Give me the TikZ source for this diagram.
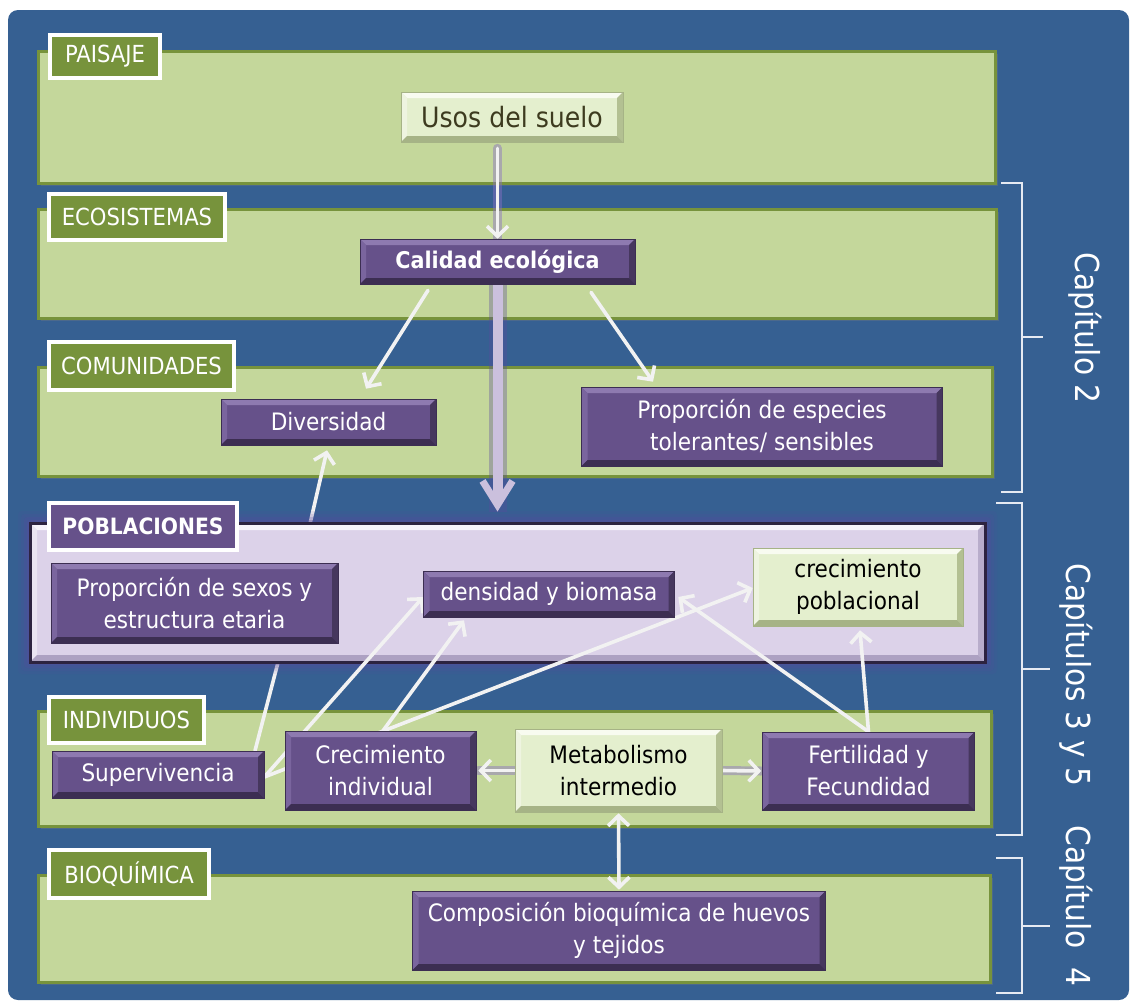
\documentclass[tikz,border=0pt]{standalone}
\usepackage{fontspec}
\setmainfont{DejaVu Sans}[FakeStretch=0.9]
\usetikzlibrary{arrows.meta,shadows,calc}
\definecolor{panelblue}{HTML}{366092}
\definecolor{bandfill}{HTML}{C4D79B}
\definecolor{banddraw}{HTML}{77933C}
\definecolor{labfill}{HTML}{77933C}
\definecolor{pfill}{HTML}{66518A}
\definecolor{ptop}{HTML}{8E7AB0}
\definecolor{pleft}{HTML}{7A659E}
\definecolor{pright}{HTML}{46375E}
\definecolor{pbot}{HTML}{3C2E52}
\definecolor{gfill}{HTML}{E4EFCE}
\definecolor{gtop}{HTML}{F8FBF0}
\definecolor{gleft}{HTML}{EEF4E0}
\definecolor{gright}{HTML}{B3C092}
\definecolor{gbot}{HTML}{A6B386}
\definecolor{lavfill}{HTML}{DCD2E9}
\definecolor{lavtop}{HTML}{F7F3FB}
\definecolor{lavleft}{HTML}{EAE4F2}
\definecolor{lavright}{HTML}{B8ADCB}
\definecolor{lavbot}{HTML}{ADA1C2}
\definecolor{lavdraw}{HTML}{2D2340}
\definecolor{glowpur}{HTML}{5A4A9E}
\definecolor{arrw}{HTML}{F2F2F2}
\definecolor{glowc}{HTML}{8A6FC4}
\definecolor{bigc}{HTML}{CBC0DD}
\definecolor{brk}{HTML}{E6EAF2}
\definecolor{usostext}{HTML}{3D3B1F}
\pgfdeclarelayer{l0}
\pgfdeclarelayer{l1}
\pgfdeclarelayer{l2}
\pgfdeclarelayer{l3}
\pgfsetlayers{l0,l1,l2,l3,main}
\tikzset{
  bevel/.style n args={5}{path picture={
    \fill[#2] (path picture bounding box.north west) -- (path picture bounding box.north east)
      -- ([xshift=-#1,yshift=-#1]path picture bounding box.north east)
      -- ([xshift=#1,yshift=-#1]path picture bounding box.north west) -- cycle;
    \fill[#3] (path picture bounding box.north west) -- (path picture bounding box.south west)
      -- ([xshift=#1,yshift=#1]path picture bounding box.south west)
      -- ([xshift=#1,yshift=-#1]path picture bounding box.north west) -- cycle;
    \fill[#4] (path picture bounding box.north east) -- (path picture bounding box.south east)
      -- ([xshift=-#1,yshift=#1]path picture bounding box.south east)
      -- ([xshift=-#1,yshift=-#1]path picture bounding box.north east) -- cycle;
    \fill[#5] (path picture bounding box.south west) -- (path picture bounding box.south east)
      -- ([xshift=-#1,yshift=#1]path picture bounding box.south east)
      -- ([xshift=#1,yshift=#1]path picture bounding box.south west) -- cycle;
  }},
  band/.style={rectangle, fill=bandfill, draw=banddraw, line width=3pt,
    drop shadow={shadow xshift=3pt,shadow yshift=-3pt,opacity=.3}},
  lab/.style={rectangle, fill=labfill, draw=white, line width=3.2pt, text=white,
    font=\fontsize{23.5}{27}\selectfont, inner sep=0pt,
    drop shadow={shadow xshift=2pt,shadow yshift=-2pt,opacity=.3}},
  pbox/.style={rectangle, fill=pfill, draw=pbot, line width=0.6pt, text=white, align=center,
    inner sep=0pt, font=\fontsize{24}{32}\selectfont, bevel={6pt}{ptop}{pleft}{pright}{pbot}},
  gbox/.style={rectangle, fill=gfill, draw=gbot, line width=0.6pt, text=black, align=center,
    inner sep=0pt, font=\fontsize{24}{32}\selectfont, bevel={6pt}{gtop}{gleft}{gright}{gbot}},
  tipw/.tip={Straight Barb[length=10pt,width=21pt]},
  warr/.style={draw=arrw, line width=3.6pt, line cap=round, -tipw},
  dwarr/.style={draw=arrw, line width=3.6pt, line cap=round, tipw-tipw},
  wline/.style={draw=arrw, line width=3.6pt, line cap=round},
  glow/.style={preaction={draw=glowc, line width=9pt, opacity=0.45, -, line cap=round}},
  bigarr/.style={draw=bigc, line width=10pt, -{Straight Barb[length=24pt,width=30pt,line width=7pt]},
    preaction={draw=glowpur, line width=18pt, opacity=.35, -}},
  chap/.style={text=white, font=\fontsize{33}{40}\selectfont, inner sep=0pt, rotate=-90},
  brack/.style={draw=brk, line width=1.5pt}
}
\begin{document}
\begin{tikzpicture}[x=1pt,y=-1pt]
\useasboundingbox (0,0) rectangle (1130,1002);
\begin{pgfonlayer}{l0}
\fill[white] (0,0) rectangle (1130,1002);
\fill[panelblue, rounded corners=10pt] (8,10) rectangle (1129,1000);
% green bands
\node[band, minimum width=957pt, minimum height=132pt] (bpai) at (516.5,117) {};
\node[band, minimum width=958pt, minimum height=109pt] (beco) at (517,263.5) {};
\node[band, minimum width=954pt, minimum height=109pt] (bcom) at (515,421.5) {};
\node[band, minimum width=953pt, minimum height=115pt] (bind) at (514.5,768.5) {};
\node[band, minimum width=952pt, minimum height=107pt] (bbio) at (514,928.5) {};
% labels
\node[lab, minimum width=110pt, minimum height=43pt] (lpai) at (105,56.5) {PAISAJE};
\node[lab, minimum width=176pt, minimum height=46pt] (leco) at (137,217) {ECOSISTEMAS};
\node[lab, minimum width=185pt, minimum height=48pt] (lcom) at (141.5,366) {COMUNIDADES};
\node[lab, minimum width=155pt, minimum height=46pt] (lind) at (126.5,720) {INDIVIDUOS};
\node[lab, minimum width=160pt, minimum height=48pt] (lbio) at (129,874) {BIOQUÍMICA};
% brackets
\draw[brack] (1001,183) -- (1022,183) -- (1022,492) -- (1001,492);
\draw[brack] (1022,337) -- (1043,337);
\draw[brack] (996,503) -- (1022,503) -- (1022,835) -- (996,835);
\draw[brack] (1022,669) -- (1050,669);
\draw[brack] (996,858) -- (1022,858) -- (1022,993) -- (996,993);
\draw[brack] (1022,926) -- (1050,926);
\node[chap] (ch2) at (1085,328) {Capítulo 2};
\node[chap] (ch35) at (1076,675) {Capítulos 3 y 5};
\node[chap] (ch4) at (1076,906) {Capítulo\ \ 4};
\end{pgfonlayer}

% boxes
\node[gbox, minimum width=222pt, minimum height=50pt, text=usostext, font=\fontsize{28}{34}\selectfont] (usos) at (512,117) {Usos del suelo};
\node[pbox, minimum width=275pt, minimum height=45pt, font=\bfseries\fontsize{23}{28}\selectfont] (cal) at (497.5,261.5) {Calidad ecológica};
\node[pbox, minimum width=215pt, minimum height=46pt] (div) at (328.5,422) {Diversidad};
\node[pbox, minimum width=361pt, minimum height=79pt] (pesp) at (762,426.5) {Proporción de especies\\tolerantes/ sensibles};
\node[pbox, minimum width=287pt, minimum height=80pt] (psex) at (194.5,603) {Proporción de sexos y\\estructura etaria};
\node[pbox, minimum width=251pt, minimum height=46pt] (dens) at (549,594) {densidad y biomasa};
\node[gbox, minimum width=210pt, minimum height=78pt] (cpob) at (858,587) {crecimiento\\poblacional};
\node[pbox, minimum width=212pt, minimum height=47pt] (sup) at (158,774.5) {Supervivencia};
\node[pbox, minimum width=191pt, minimum height=79pt] (cind) at (380.5,770.5) {Crecimiento\\individual};
\node[gbox, minimum width=207pt, minimum height=83pt] (met) at (618.5,770.5) {Metabolismo\\intermedio};
\node[pbox, minimum width=212pt, minimum height=78pt] (fert) at (868.5,771) {Fertilidad y\\Fecundidad};
\node[pbox, minimum width=413pt, minimum height=79pt] (comp) at (619,930.5) {Composición bioquímica de huevos\\y tejidos};

% hidden connectors (under the POBLACIONES band)
\begin{pgfonlayer}{l1}
\draw[wline] ([xshift=97pt]sup.north) -- ([xshift=88.5pt]psex.south);
\draw[warr] ([xshift=106.5pt]psex.north) -- ([xshift=-1.5pt,yshift=-5pt]div.south);
\end{pgfonlayer}

% POBLACIONES band
\begin{pgfonlayer}{l2}
\foreach \g/\o in {12/0.10, 9/0.14, 6/0.2, 3/0.3}
  \fill[glowpur, opacity=\o, rounded corners=4pt] ({30-\g},{523-\g}) rectangle ({985+\g},{662+\g});
\node[rectangle, fill=lavfill, draw=lavdraw, line width=3pt, minimum width=955pt, minimum height=139pt,
  bevel={7pt}{lavtop}{lavleft}{lavright}{lavbot}] (bpob) at (507.5,592.5) {};
\node[lab, fill=pfill, font=\bfseries\fontsize{22.5}{26}\selectfont, minimum width=188pt, minimum height=47pt] (lpob) at (143,526.5) {POBLACIONES};
\end{pgfonlayer}

% connectors
\begin{pgfonlayer}{l3}
\draw[warr, glow] (usos.south -| cal.north) ++(0,6) -- (cal.north);
\draw[bigarr] (cal.south) -- ([yshift=10pt]cal.south |- bpob.north);
\draw[warr] ([xshift=-69.5pt,yshift=-6pt]cal.south) -- ([xshift=37.5pt,yshift=10pt]div.north);
\draw[warr] ([xshift=93.5pt,yshift=-8pt]cal.south) -- ([xshift=-109pt,yshift=5pt]pesp.north);
\draw[warr] ([yshift=-2.5pt]sup.east) -- ([yshift=-3pt]dens.west);
\draw[warr] ([yshift=-2.5pt]sup.east) -- ([yshift=-1pt]cpob.west);
\draw[warr] ([xshift=2.5pt]cind.north) -- ([xshift=-85pt,yshift=-3pt]dens.south);
\draw[warr] (fert.north) -- ([xshift=3.5pt,yshift=-3pt]dens.east);
\draw[warr] (fert.north) -- ([xshift=2pt,yshift=-4pt]cpob.south);
\draw[warr, glow] (met.west) -- ([xshift=2pt]cind.east);
\draw[warr, glow] (met.east) -- ([xshift=-1pt]fert.west);
\draw[dwarr] ([yshift=-1pt]met.south) -- ([yshift=1pt]comp.north);
\end{pgfonlayer}
\end{tikzpicture}
\end{document}
